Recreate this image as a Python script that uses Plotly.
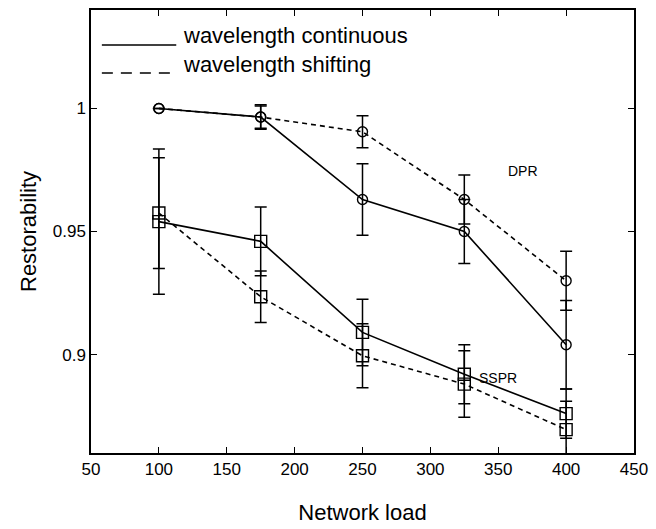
import plotly.graph_objects as go

loads = [100, 175, 250, 325, 400]

dpr_cont = [1.0, 0.9965, 0.963, 0.950, 0.904]
dpr_cont_err = [0.0, 0.005, 0.0145, 0.013, 0.018]
dpr_shift = [1.0, 0.9965, 0.9905, 0.963, 0.930]
dpr_shift_err = [0.0, 0.0045, 0.0065, 0.010, 0.012]

sspr_cont = [0.954, 0.946, 0.909, 0.892, 0.876]
sspr_cont_err = [0.0295, 0.014, 0.0135, 0.012, 0.010]
sspr_shift = [0.9575, 0.9235, 0.8995, 0.888, 0.8695]
sspr_shift_err = [0.0225, 0.0105, 0.013, 0.0135, 0.0115]

legend_labels = ["wavelength continuous", "wavelength shifting"]
x_ticks = [50, 100, 150, 200, 250, 300, 350, 400, 450]
y_ticks = [0.9, 0.95, 1.0]
y_tick_text = ["0.9", "0.95", "1"]

FONT = "Liberation Sans, Arial, sans-serif"

fig = go.Figure()


def add_series(y, err, dash, symbol, msize):
    fig.add_trace(go.Scatter(
        x=loads, y=y, mode="lines+markers",
        line=dict(color="black", width=1.6, dash=dash),
        marker=dict(symbol=symbol, size=msize, color="black",
                    line=dict(color="black", width=1.4)),
        error_y=dict(type="data", array=err, visible=True,
                     color="black", thickness=1.5, width=6),
        showlegend=False, cliponaxis=True,
    ))


add_series(dpr_shift, dpr_shift_err, "5px,4px", "circle-open", 10)
add_series(dpr_cont, dpr_cont_err, "solid", "circle-open", 10)
add_series(sspr_shift, sspr_shift_err, "5px,4px", "square-open", 12)
add_series(sspr_cont, sspr_cont_err, "solid", "square-open", 12)

# Legend drawn manually (long line samples like the original)
fig.add_shape(type="line", xref="paper", yref="paper",
              x0=0.020, x1=0.157, y0=0.921, y1=0.921,
              line=dict(color="black", width=1.5))
fig.add_shape(type="line", xref="paper", yref="paper",
              x0=0.020, x1=0.152, y0=0.858, y1=0.858,
              line=dict(color="black", width=1.5, dash="11px,8px"))
for lab, yy in zip(legend_labels, [0.943, 0.876]):
    fig.add_annotation(x=0.166, y=yy, xref="paper", yref="paper",
                       text=lab, showarrow=False, xanchor="left",
                       yanchor="middle",
                       font=dict(family=FONT, size=22, color="black"))

fig.add_annotation(x=356, y=0.9745, text="DPR", showarrow=False,
                   xanchor="left", yanchor="middle",
                   font=dict(family=FONT, size=14, color="black"))
fig.add_annotation(x=334, y=0.8905, text="SSPR", showarrow=False,
                   xanchor="left", yanchor="middle",
                   font=dict(family=FONT, size=14, color="black"))

axis_common = dict(showgrid=False, zeroline=False, showline=True,
                   linecolor="black", linewidth=1.5, mirror="ticks",
                   ticks="inside", ticklen=6, tickwidth=1.3,
                   tickcolor="black",
                   tickfont=dict(family=FONT, size=17, color="black"))

fig.update_layout(
    width=656, height=529,
    margin=dict(l=91, r=18, t=8, b=76),
    paper_bgcolor="white", plot_bgcolor="white",
    font=dict(family=FONT, color="black"),
    xaxis=dict(range=[50, 450], tickvals=x_ticks,
               title=dict(text="Network load", standoff=26,
                          font=dict(family=FONT, size=22)),
               **axis_common),
    yaxis=dict(range=[0.86, 1.04], tickvals=y_ticks, ticktext=y_tick_text,
               title=dict(text="Restorability", standoff=10,
                          font=dict(family=FONT, size=22)),
               **axis_common),
)

fig.write_html("out.html",
               config={"displayModeBar": False},
               post_script="document.body.style.margin='0';")
